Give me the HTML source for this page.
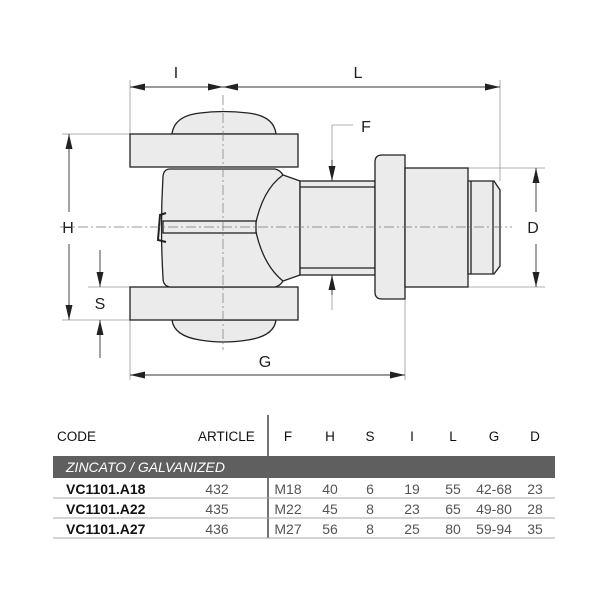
<!DOCTYPE html>
<html><head><style>
body{margin:0;background:#fff;width:600px;height:600px;overflow:hidden;font-family:"Liberation Sans",sans-serif}
svg{position:absolute;left:0;top:0}
</style></head><body>
<svg width="600" height="600" viewBox="0 0 600 600">
<defs>
<marker id="a" viewBox="0 0 10 10" refX="10" refY="5" markerWidth="15" markerHeight="7" orient="auto-start-reverse" markerUnits="userSpaceOnUse" preserveAspectRatio="none"><path d="M0,0L10,5L0,10z" fill="#222"/></marker>
</defs>
<g stroke="#999" stroke-width="0.8" fill="none">
<line x1="130" y1="80" x2="130" y2="134"/><line x1="500" y1="80" x2="500" y2="181"/>
<line x1="130" y1="320" x2="130" y2="380"/><line x1="405" y1="299" x2="405" y2="380"/>
<line x1="62" y1="134" x2="130" y2="134"/><line x1="62" y1="320" x2="130" y2="320"/>
<line x1="468" y1="168" x2="545" y2="168"/><line x1="468" y1="287" x2="545" y2="287"/>
<line x1="88" y1="287" x2="130" y2="287"/>
<line x1="332" y1="125" x2="332" y2="310"/><line x1="332" y1="125" x2="353" y2="125"/>
</g>
<g stroke="#333" stroke-width="0.9" fill="none">
<line x1="130" y1="87" x2="223" y2="87" marker-start="url(#a)" marker-end="url(#a)"/>
<line x1="223" y1="87" x2="500" y2="87" marker-start="url(#a)" marker-end="url(#a)"/>
<line x1="130" y1="375" x2="405" y2="375" marker-start="url(#a)" marker-end="url(#a)"/>
<line x1="69" y1="134" x2="69" y2="212" marker-start="url(#a)"/>
<line x1="69" y1="244" x2="69" y2="320" marker-end="url(#a)"/>
<line x1="536" y1="168" x2="536" y2="212" marker-start="url(#a)"/>
<line x1="536" y1="244" x2="536" y2="287" marker-end="url(#a)"/>
<line x1="100" y1="250" x2="100" y2="287" marker-end="url(#a)"/>
<line x1="100" y1="358" x2="100" y2="320" marker-end="url(#a)"/>
<line x1="332" y1="160" x2="332" y2="181" marker-end="url(#a)"/>
<line x1="332" y1="295" x2="332" y2="275" marker-end="url(#a)"/>
</g>
<g stroke="#222" stroke-width="1.3" fill="#ebebeb">
<path d="M172,134 Q174,116 200,113 Q223,110 248,113 Q274,116 276,134Z"/>
<path d="M172,320 Q174,336 200,340 Q223,344 248,340 Q274,336 276,320Z"/>
<rect x="130" y="134" width="168" height="33"/>
<rect x="130" y="287" width="168" height="33"/>
<path d="M170,169 L275,169 Q280,170 283,175 L300,181 L300,275 L283,281 Q280,286 275,287 L170,287 Q163,286 163,278 Q160,227 163,176 Q164,169 170,169Z"/>
<path d="M283,175 Q262,190 255,227 Q262,264 283,281" fill="none"/>
<rect x="300" y="181" width="75" height="94"/>
<line x1="300" y1="187" x2="375" y2="187"/><line x1="300" y1="268" x2="375" y2="268"/>
<path d="M382,155 L405,155 L405,299 L382,299 Q375,299 375,292 L375,162 Q375,155 382,155Z"/>
<rect x="405" y="168" width="63" height="119"/>
<path d="M468,181 L494,181 L500,190 L500,266 L494,274 L468,274Z"/>
<line x1="471" y1="181" x2="471" y2="274"/><line x1="493" y1="181" x2="493" y2="274"/>
<rect x="163" y="221" width="93" height="12"/>
<path d="M166,213 L160,215 L158,240 L166,242" fill="none" stroke-width="2"/>
</g>
<g stroke="#777" stroke-width="0.7" stroke-dasharray="10,3,2,3" fill="none">
<line x1="223" y1="95" x2="223" y2="350"/>
<line x1="60" y1="227" x2="512" y2="227"/>
</g>
<g font-size="16" fill="#222" text-anchor="middle">
<text x="176" y="78">I</text><text x="358" y="78">L</text>
<text x="366" y="132">F</text><text x="68" y="233">H</text>
<text x="533" y="233">D</text><text x="100" y="309">S</text>
<text x="265" y="367">G</text>
</g>
<line x1="268" y1="415" x2="268" y2="538" stroke="#444" stroke-width="1.5"/>
<rect x="53" y="456" width="502" height="22" fill="#5f5f5f"/>
<g stroke="#aaa" stroke-width="1"><line x1="53" y1="498" x2="555" y2="498"/><line x1="53" y1="518" x2="555" y2="518"/><line x1="53" y1="538" x2="555" y2="538"/></g>
<g font-size="13.5" fill="#111">
<text x="57" y="441">CODE</text><text x="198" y="441">ARTICLE</text>
<g text-anchor="middle"><text x="288" y="441">F</text><text x="330" y="441">H</text><text x="370" y="441">S</text><text x="412" y="441">I</text><text x="453" y="441">L</text><text x="494" y="441">G</text><text x="535" y="441">D</text></g>
</g>
<text x="66" y="472" font-size="14" fill="#fff" font-style="italic">ZINCATO / GALVANIZED</text>
<g font-size="14" font-weight="bold" fill="#111">
<text x="66" y="494">VC1101.A18</text><text x="66" y="514">VC1101.A22</text><text x="66" y="534">VC1101.A27</text>
</g>
<g font-size="14" fill="#555" text-anchor="middle">
<text x="217" y="494">432</text><text x="217" y="514">435</text><text x="217" y="534">436</text>
<text x="288" y="494">M18</text><text x="330" y="494">40</text><text x="370" y="494">6</text><text x="412" y="494">19</text><text x="453" y="494">55</text><text x="494" y="494">42-68</text><text x="535" y="494">23</text>
<text x="288" y="514">M22</text><text x="330" y="514">45</text><text x="370" y="514">8</text><text x="412" y="514">23</text><text x="453" y="514">65</text><text x="494" y="514">49-80</text><text x="535" y="514">28</text>
<text x="288" y="534">M27</text><text x="330" y="534">56</text><text x="370" y="534">8</text><text x="412" y="534">25</text><text x="453" y="534">80</text><text x="494" y="534">59-94</text><text x="535" y="534">35</text>
</g>
</svg>
</body></html>
